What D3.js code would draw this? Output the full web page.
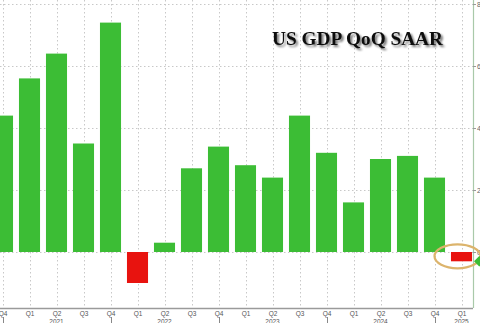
<!DOCTYPE html>
<html>
<head>
<meta charset="utf-8">
<script src="https://cdn.jsdelivr.net/npm/d3@7/dist/d3.min.js"></script>
<style>
  html, body { margin: 0; padding: 0; background: #fff; overflow: hidden; }
  svg { display: block; }
</style>
</head>
<body>
<svg id="chart" width="480" height="323"></svg>
<script>
// Quarterly US real GDP growth, annualised (QoQ SAAR, %)
const quarters = ["Q4","Q1","Q2","Q3","Q4","Q1","Q2","Q3","Q4","Q1","Q2","Q3","Q4","Q1","Q2","Q3","Q4","Q1"];
const years    = ["2020","2021","2021","2021","2021","2022","2022","2022","2022","2023","2023","2023","2023","2024","2024","2024","2024","2025"];
const gdpGrowth = [4.4, 5.6, 6.4, 3.5, 7.4, -1.0, 0.3, 2.7, 3.4, 2.8, 2.4, 4.4, 3.2, 1.6, 3.0, 3.1, 2.4, -0.3];
const yTicks = [0, 2, 4, 6, 8];
const titleText = "US GDP QoQ SAAR";

const categories = quarters.map((q, i) => years[i] + " " + q);
const data = categories.map((c, i) => ({ key: c, q: quarters[i], year: years[i], value: gdpGrowth[i] }));

const svg = d3.select("#chart");
const W = 480, H = 323;
const axisX = 473;      // right-hand value axis
const axisY = 308;      // bottom category axis

const x = d3.scalePoint().domain(categories).range([2.5, 461.5]);
const step = x.step();
const barW = step * 0.78;
const y = d3.scaleLinear().domain([0, 8]).range([252, 4]);

const defs = svg.append("defs");
const sh = defs.append("filter").attr("id", "shadow").attr("x", "-10%").attr("y", "-30%").attr("width", "130%").attr("height", "180%");
sh.append("feGaussianBlur").attr("in", "SourceAlpha").attr("stdDeviation", 1.2).attr("result", "b");
sh.append("feOffset").attr("in", "b").attr("dx", 2).attr("dy", 2).attr("result", "o");
sh.append("feComponentTransfer").attr("in", "o").attr("result", "o2")
  .append("feFuncA").attr("type", "linear").attr("slope", 0.55);
const m = sh.append("feMerge");
m.append("feMergeNode").attr("in", "o2");
m.append("feMergeNode").attr("in", "SourceGraphic");

const soft = defs.append("filter").attr("id", "soft");
soft.append("feGaussianBlur").attr("stdDeviation", 0.5);

// grid
const grid = svg.append("g").attr("stroke", "#c8c8c8").attr("stroke-width", 1).attr("stroke-dasharray", "1.5,2.5");
grid.selectAll("line.v").data(categories).join("line").attr("class", "v")
  .attr("x1", d => Math.round(x(d)) + 0.5).attr("x2", d => Math.round(x(d)) + 0.5)
  .attr("y1", 0).attr("y2", axisY);
grid.selectAll("line.h").data(yTicks).join("line").attr("class", "h")
  .attr("x1", 0).attr("x2", axisX)
  .attr("y1", d => Math.round(y(d)) + 0.5).attr("y2", d => Math.round(y(d)) + 0.5);

// bars
svg.append("g").selectAll("rect").data(data).join("rect")
  .attr("x", d => x(d.key) - barW / 2)
  .attr("width", barW)
  .attr("y", d => y(Math.max(0, d.value)))
  .attr("height", d => Math.abs(y(d.value) - y(0)))
  .attr("fill", d => d.value >= 0 ? "#3cbd35" : "#e8130f");

// right value axis
const yAxis = svg.append("g").attr("transform", `translate(${axisX},0)`)
  .call(d3.axisRight(y).tickValues(yTicks).tickSize(3).tickPadding(1).tickFormat(d3.format("d")));
yAxis.select(".domain").attr("stroke", "#a9c9a9").attr("stroke-width", 1.2).attr("d", `M0.5,0V${axisY}`);
yAxis.selectAll(".tick line").attr("stroke", "#999");
yAxis.selectAll(".tick text").attr("fill", "#666").attr("font-family", "Liberation Sans, Arial, sans-serif").attr("font-size", 7);

// bottom category axis
const xAxis = svg.append("g").attr("transform", `translate(0,${axisY})`)
  .call(d3.axisBottom(x).tickSize(0).tickPadding(3).tickFormat((d, i) => quarters[i]));
xAxis.select(".domain").attr("stroke", "#9a9a9a").attr("stroke-width", 1.6).attr("d", `M0,0.5H${axisX}`);
xAxis.selectAll(".tick text").attr("fill", "#555").attr("font-family", "Liberation Sans, Arial, sans-serif").attr("font-size", 6.5);

// year labels under Q2 (or the lone Q1 of the last year)
const yearLabels = data.filter((d, i) => d.q === "Q2" || (i === data.length - 1 && d.q === "Q1"));
svg.append("g").selectAll("text").data(yearLabels).join("text")
  .attr("x", d => x(d.key)).attr("y", axisY + 15.5)
  .attr("text-anchor", "middle").attr("fill", "#555")
  .attr("font-family", "Liberation Sans, Arial, sans-serif").attr("font-size", 6.5)
  .text(d => d.year);

// year separators under each Q4
svg.append("g").selectAll("line").data(data.filter(d => d.q === "Q4")).join("line")
  .attr("x1", d => Math.round(x(d.key)) + 0.5).attr("x2", d => Math.round(x(d.key)) + 0.5)
  .attr("y1", axisY + 9).attr("y2", H).attr("stroke", "#888").attr("stroke-width", 1);

// last value highlight
const last = data[data.length - 1];
svg.append("ellipse")
  .attr("cx", x(last.key) - 4).attr("cy", y(last.value) - 5)
  .attr("rx", 23).attr("ry", 12)
  .attr("fill", "none").attr("stroke", "#dcb46c").attr("stroke-width", 2.2)
  .attr("filter", "url(#soft)");

// last value tag on the axis
const ty = y(last.value);
svg.append("path")
  .attr("d", `M${axisX + 1},${ty} L${axisX + 6},${ty - 5} H${W} V${ty + 5} H${axisX + 6} Z`)
  .attr("fill", "#3cbd35");

// title
svg.append("text")
  .attr("x", 272).attr("y", 45)
  .attr("font-family", "Liberation Serif, Times New Roman, serif")
  .attr("font-weight", "bold").attr("font-size", 19.5)
  .attr("textLength", 171).attr("lengthAdjust", "spacingAndGlyphs")
  .attr("fill", "#111").attr("filter", "url(#shadow)")
  .text(titleText);
</script>
</body>
</html>
